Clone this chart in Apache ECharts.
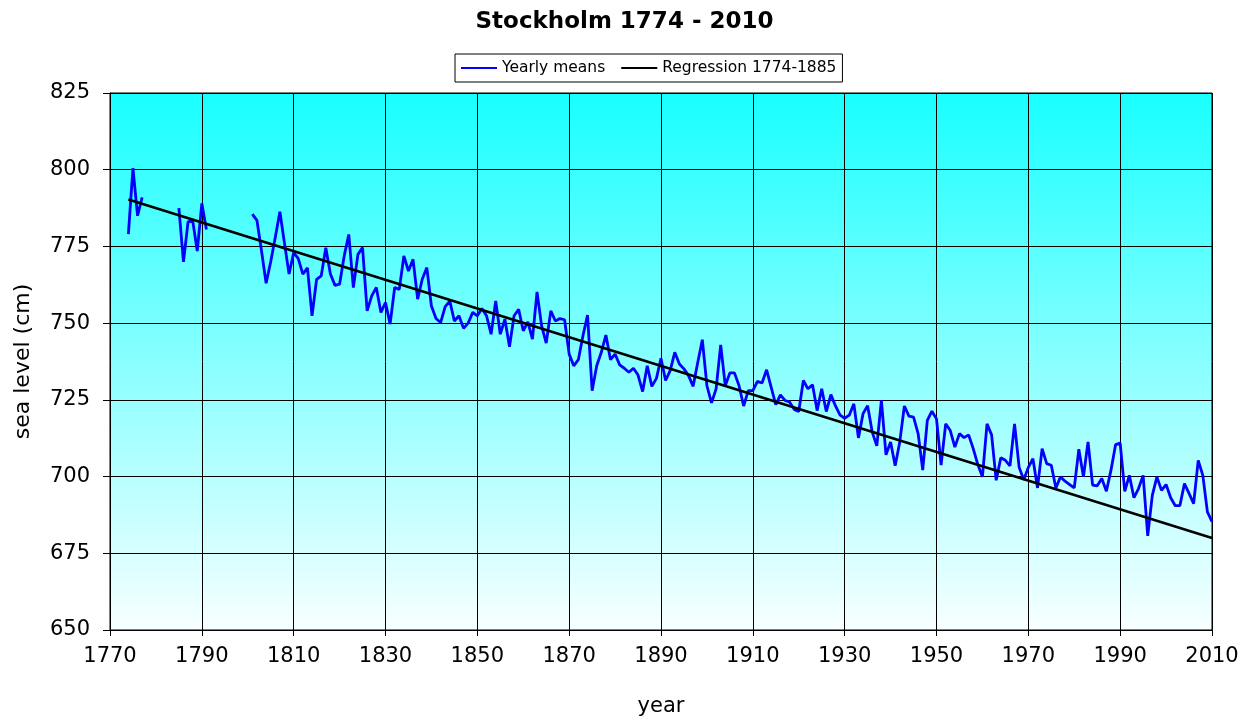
<!DOCTYPE html>
<html>
<head>
<meta charset="utf-8">
<title>Stockholm 1774 - 2010</title>
<script src="https://cdn.jsdelivr.net/npm/echarts@6/dist/echarts.min.js"></script>
<style>
  html, body { margin: 0; padding: 0; background: #fff; }
  #chart { width: 1249px; height: 722px; }
</style>
</head>
<body>
<div id="chart"></div>
<script>
// yearly mean sea level (cm), one value per year starting at firstYear, null = no data
const firstYear = 1770
const seaLevel = [
  null, null, null, null, 779, 800.5, 785, 791, null, null,               // 1770
  null, null, null, null, null, 787.5, 770, 783, 783.5, 773.5,            // 1780
  789, 780.5, null, null, null, null, null, null, null, null,             // 1790
  null, 785.5, 783.5, 773.5, 763, 770, 778, 786.3, 776, 766,              // 1800
  773, 771, 766, 768, 752.4, 764.3, 765.4, 774.6, 766, 762.3,             // 1810
  762.7, 771.9, 778.9, 761.6, 772.4, 774.6, 754, 758.9, 761.6, 753.5,     // 1820
  756.7, 749.7, 761.6, 761, 771.9, 767, 770.8, 757.8, 764.3, 768.1,       // 1830
  755.6, 751.5, 750.2, 755.4, 757.2, 750.7, 752.4, 748.3, 750, 753.5,     // 1840
  752.4, 754.8, 752.4, 746.4, 757.2, 746.4, 751.3, 742.3, 752.4, 754.5,   // 1850
  747.5, 750.4, 744.8, 760.2, 749.1, 743.5, 754, 750.7, 751.5, 751.1,     // 1860
  739.9, 736.1, 738.1, 745.9, 752.6, 728, 736.1, 740.5, 746.1, 738.1,     // 1870
  739.9, 736.4, 735.3, 734, 735.3, 733.1, 727.7, 736.1, 729.4, 732,       // 1880
  738.5, 731.3, 734.5, 740.5, 736.7, 735.1, 732.9, 729.4, 737.2, 744.6,   // 1890
  729.6, 724, 728.6, 742.9, 729.6, 733.8, 733.8, 729.6, 723, 728,         // 1900
  728, 731, 730.5, 734.8, 729.1, 723.4, 726.6, 724.8, 724.3, 721.9,       // 1910
  721.2, 731.3, 728.6, 729.9, 721.5, 728.6, 721.2, 726.7, 723, 720,       // 1920
  719, 720, 723.7, 712.6, 720.5, 723.1, 714.5, 710, 724.8, 707.1,         // 1930
  711.3, 703.5, 711.3, 723, 719.7, 719.4, 714, 702.1, 718.3, 721.3,       // 1940
  718.8, 703.7, 717.2, 715, 709.6, 714, 712.7, 713.6, 709.1, 703.9,       // 1950
  699.9, 717.2, 713.6, 698.8, 706.1, 705.3, 703.5, 717.2, 703, 699,       // 1960
  703, 705.8, 696.3, 709.1, 704.2, 703.7, 696.3, 699.9, 698.5, 697.4,     // 1970
  696.3, 708.9, 699.9, 711.3, 697.2, 697, 699.4, 695.2, 702.1, 710.4,     // 1980
  710.9, 695.2, 700.4, 693.1, 696.1, 700.4, 680.7, 693.9, 699.9, 695.5,   // 1990
  697.4, 693.1, 690.5, 690.5, 697.7, 694.5, 691.2, 705.3, 700.4, 688.5,   // 2000
  685.3                                                                   // 2010
]
// regression line end points
const regYears = [1774, 2010]
const regValues = [790.3, 680]

const yearlyData = seaLevel.map((v, i) => [firstYear + i, v])
const regData = regYears.map((y, i) => [y, regValues[i]])

const font = 'DejaVu Sans'
var chartDom = document.getElementById('chart')
var myChart = echarts.init(chartDom)
var option

option = {
  animation: false,
  backgroundColor: '#fff',
  title: {
    text: 'Stockholm 1774 - 2010',
    left: 'center',
    top: 6,
    textStyle: { fontFamily: font, fontSize: 23, fontWeight: 'bold', color: '#000' }
  },
  legend: {
    top: 54,
    left: 455,
    icon: 'rect',
    itemWidth: 36,
    itemHeight: 2,
    itemGap: 16,
    padding: [6, 6],
    borderColor: '#000',
    borderWidth: 1,
    backgroundColor: '#fff',
    textStyle: { fontFamily: font, fontSize: 15.5, color: '#000' },
    data: ['Yearly means', 'Regression 1774-1885']
  },
  grid: {
    left: 110,
    right: 37,
    top: 93,
    bottom: 90,
    show: true,
    borderColor: '#000',
    borderWidth: 1,
    backgroundColor: new echarts.graphic.LinearGradient(0, 0, 0, 1, [
      { offset: 0, color: '#19ffff' },
      { offset: 1, color: '#f8ffff' }
    ])
  },
  xAxis: {
    type: 'value',
    min: 1770,
    max: 2010,
    interval: 20,
    name: 'year',
    nameLocation: 'middle',
    nameGap: 66,
    nameTextStyle: { fontFamily: font, fontSize: 21, color: '#000' },
    axisLine: { lineStyle: { color: '#000' } },
    axisTick: { show: true, inside: false, length: 6, lineStyle: { color: '#000' } },
    axisLabel: {
      fontFamily: font, fontSize: 21, color: '#000', margin: 16,
      formatter: v => String(v)
    },
    splitLine: { show: true, lineStyle: { color: '#000', width: 1 } }
  },
  yAxis: {
    type: 'value',
    min: 650,
    max: 825,
    interval: 25,
    name: 'sea level (cm)',
    nameLocation: 'middle',
    nameGap: 76,
    nameTextStyle: { fontFamily: font, fontSize: 22, color: '#000' },
    axisLine: { show: true, lineStyle: { color: '#000' } },
    axisTick: { show: true, inside: false, length: 7, lineStyle: { color: '#000' } },
    axisLabel: { fontFamily: font, fontSize: 21, color: '#000', margin: 20 },
    splitLine: { show: true, lineStyle: { color: '#000', width: 1 } }
  },
  series: [
    {
      name: 'Yearly means',
      type: 'line',
      data: yearlyData,
      showSymbol: false,
      connectNulls: false,
      lineStyle: { color: '#0000ff', width: 2.8 },
      itemStyle: { color: '#0000ff' },
      z: 3
    },
    {
      name: 'Regression 1774-1885',
      type: 'line',
      data: regData,
      showSymbol: false,
      lineStyle: { color: '#000', width: 2.6 },
      itemStyle: { color: '#000' },
      z: 4
    }
  ]
}
option && myChart.setOption(option)
</script>
</body>
</html>
